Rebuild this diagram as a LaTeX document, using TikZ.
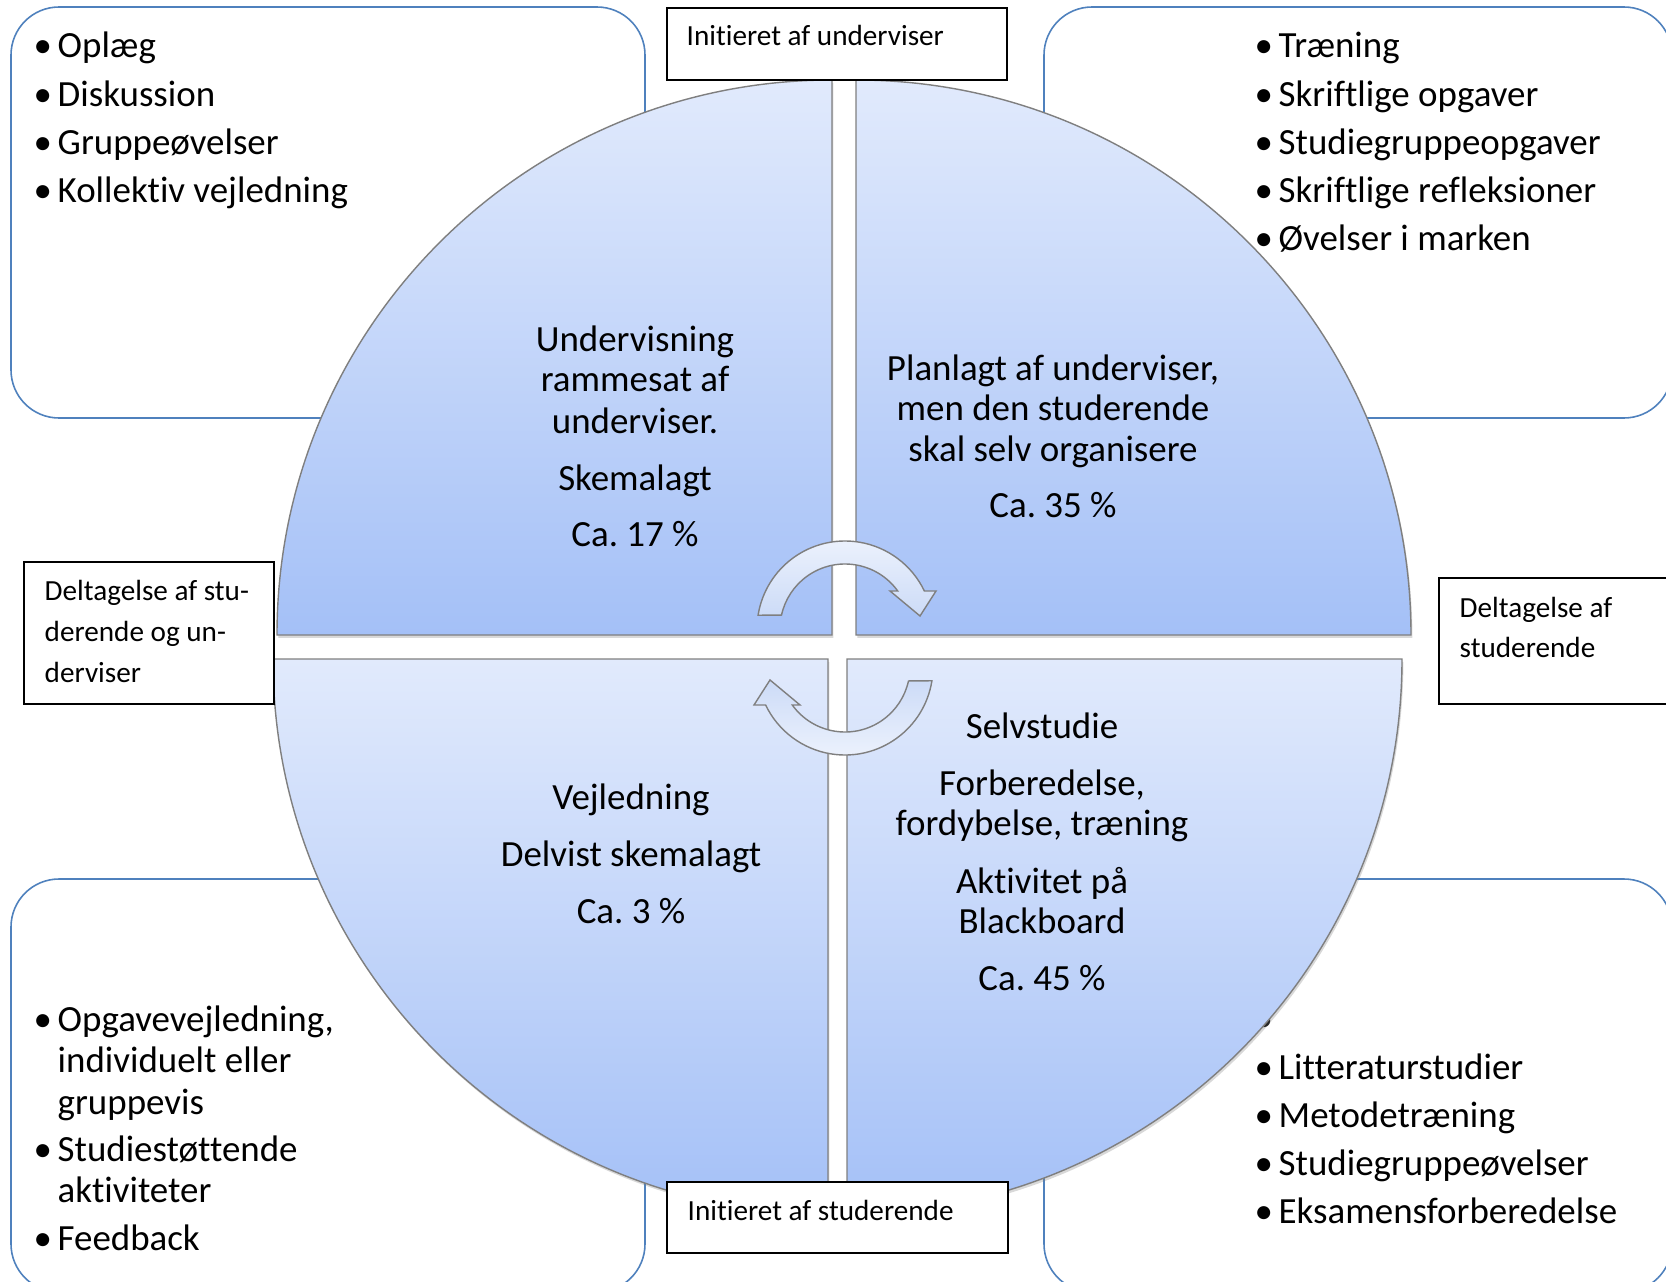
\documentclass[tikz,border=0pt]{standalone}
\usepackage{fontspec}
\setmainfont{Carlito}[RawFeature={-liga;-clig;-calt;-dlig}]
\usetikzlibrary{calc,shadows}
\frenchspacing

\definecolor{boxblue}{HTML}{4F81BD}
\definecolor{quadtop}{HTML}{E1EAFC}
\definecolor{quadbot}{HTML}{A4C0F7}
\definecolor{arrowtop}{HTML}{EEF3FD}
\definecolor{arrowbot}{HTML}{CCDBF7}
\definecolor{quadline}{HTML}{7F7F7F}

\newcommand{\bulletitem}[1]{\makebox[0.24cm][l]{\textbullet}#1}

\tikzset{
  listbox/.style={draw=boxblue, line width=0.45pt, fill=white, rounded corners=0.48cm},
  quadrant/.style={draw=quadline, line width=0.4pt, top color=quadtop, bottom color=quadbot,
    drop shadow={shadow xshift=0.4pt, shadow yshift=-0.8pt, opacity=0.3}},
  turnarrow/.style={draw=quadline, line width=0.4pt, top color=arrowtop, bottom color=arrowbot},
  labelbox/.style={draw=black, line width=0.5pt, fill=white, inner sep=0pt, anchor=north west},
  smalltext/.style={font=\fontsize{8.3}{11.6}\selectfont, inner sep=0pt, anchor=base west},
  itemtext/.style={font=\fontsize{10.5}{11.8}\selectfont, inner sep=0pt, anchor=base west},
  quadtext/.style={font=\fontsize{10.5}{11.8}\selectfont, inner sep=0pt, anchor=base},
}

\begin{document}
\begin{tikzpicture}[x=0.01cm, y=-0.01cm]
    \useasboundingbox (0,0) rectangle (1666,1282);
    \clip (0,0) rectangle (1666,1282);

    % Corner boxes with activities
    \draw[listbox] (11,7) rectangle (645,418);
    \draw[listbox] (1044,7) rectangle (1672,418);
    \draw[listbox] (11,879) rectangle (645,1292);
    \draw[listbox] (1044,879) rectangle (1672,1292);

    % Top left list
    \foreach \t [count=\i from 0] in {Oplæg, Diskussion, Gruppeøvelser, Kollektiv vejledning} {
        \node[itemtext] (tl\i) at (33, 58+48.2*\i) {\bulletitem{\t}};
    }

    % Top right list
    \foreach \t [count=\i from 0] in {Træning, Skriftlige opgaver, Studiegruppeopgaver, Skriftlige refleksioner, Øvelser i marken} {
        \node[itemtext] (tr\i) at (1254, 58+48.2*\i) {\bulletitem{\t}};
    }

    % Bottom right list (first bullet is empty)
    \foreach \t [count=\i from 0] in {{}, Litteraturstudier, Metodetræning, Studiegruppeøvelser, Eksamensforberedelse} {
        \node[itemtext] (br\i) at (1254, 1031+48*\i) {\bulletitem{\t}};
    }

    % Bottom left list
    \node[itemtext] (bl0) at (33,1031) {\bulletitem{Opgavevejledning,}};
    \node[itemtext] (bl0b) at (57,1072) {individuelt eller};
    \node[itemtext] (bl0c) at (57,1114) {gruppevis};
    \node[itemtext] (bl1) at (33,1161) {\bulletitem{Studiestøttende}};
    \node[itemtext] (bl1b) at (57,1202) {aktiviteter};
    \node[itemtext] (bl2) at (33,1250) {\bulletitem{Feedback}};

    % The four quadrants
    \path[quadrant] (832,635) -- (277,635) arc[start angle=180, end angle=270, radius=555] -- cycle;
    \path[quadrant] (856,635) -- (856,80) arc[start angle=270, end angle=360, radius=555] -- cycle;
    \path[quadrant] (847,659) -- (1402,659) arc[start angle=0, end angle=90, radius=555] -- cycle;
    \path[quadrant] (828,659) -- (828,1214) arc[start angle=90, end angle=180, radius=555] -- cycle;

    % Turning arrows in the middle
    \path[turnarrow] ($(845,629)+(189:88)$) arc[start angle=189, end angle=334.4, radius=88]
        -- (936,591) -- (920,616) -- (890,591)
        -- ($(845,629)+(324.2:65)$) arc[start angle=324.2, end angle=192.4, radius=65] -- cycle;
    \begin{scope}[rotate around={180:(845,648)}]
        \path[turnarrow, shading angle=180] ($(845,629)+(189:88)$) arc[start angle=189, end angle=334.4, radius=88]
            -- (936,591) -- (920,616) -- (890,591)
            -- ($(845,629)+(324.2:65)$) arc[start angle=324.2, end angle=192.4, radius=65] -- cycle;
    \end{scope}

    % Quadrant texts
    \foreach \y/\t [count=\i] in {352/Undervisning, 392/rammesat af, 433/underviser., 490/Skemalagt, 546/Ca. 17 \%} {
        \node[quadtext] (tlq\i) at (635,\y) {\t};
    }
    \foreach \y/\t [count=\i] in {380/{Planlagt af underviser,}, 420/men den studerende, 461/skal selv organisere, 518/Ca. 35 \%} {
        \node[quadtext] (trq\i) at (1053,\y) {\t};
    }
    \foreach \y/\t [count=\i] in {738/Selvstudie, 795/{Forberedelse,}, 835/{fordybelse, træning}, 893/Aktivitet på, 933/Blackboard, 990/Ca. 45 \%} {
        \node[quadtext] (brq\i) at (1042,\y) {\t};
    }
    \foreach \y/\t [count=\i] in {809/Vejledning, 866/Delvist skemalagt, 923/Ca. 3 \%} {
        \node[quadtext] (blq\i) at (631,\y) {\t};
    }

    % Label boxes
    \node[labelbox, minimum width=3.40cm, minimum height=0.72cm] (initU) at (666,7) {};
    \node[smalltext] (initUtxt) at ([xshift=0.2cm, yshift=-0.38cm]initU.north west) {Initieret af underviser};
    \node[labelbox, minimum width=3.41cm, minimum height=0.71cm] (initS) at (666,1181) {};
    \node[smalltext] (initStxt) at ([xshift=0.21cm, yshift=-0.39cm]initS.north west) {Initieret af studerende};

    \node[labelbox, minimum width=2.50cm, minimum height=1.42cm] (deltSU) at (23,561) {};
    \foreach \t [count=\i from 0] in {Deltagelse af stu-, derende og un-, derviser} {
        \node[smalltext] (deltSU\i) at ([xshift=0.21cm, yshift=-0.39cm-0.41cm*\i]deltSU.north west) {\t};
    }
    \node[labelbox, minimum width=2.50cm, minimum height=1.26cm] (deltS) at (1438,577) {};
    \foreach \t [count=\i from 0] in {Deltagelse af, studerende} {
        \node[smalltext] (deltS\i) at ([xshift=0.21cm, yshift=-0.40cm-0.40cm*\i]deltS.north west) {\t};
    }
\end{tikzpicture}
\end{document}
